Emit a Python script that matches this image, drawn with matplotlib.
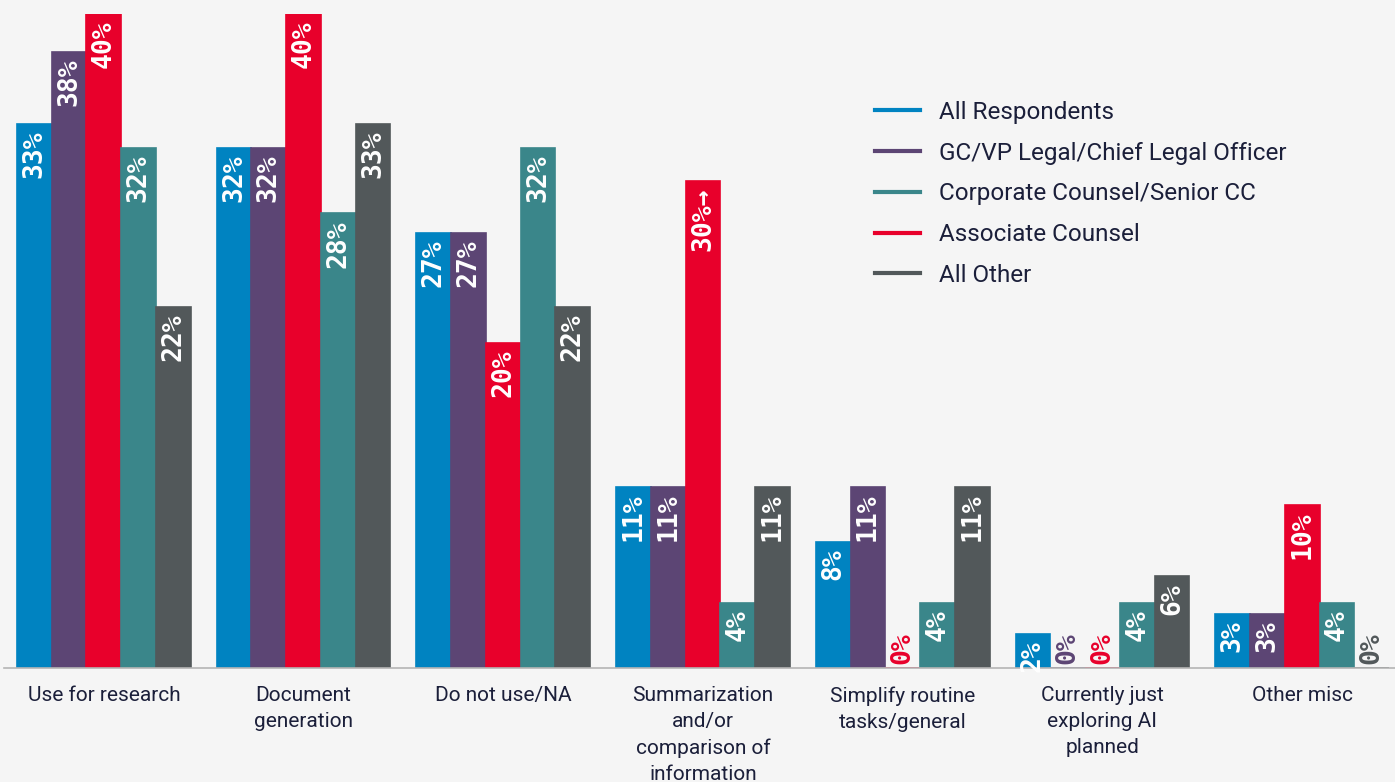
import numpy as np
import matplotlib.pyplot as plt
from matplotlib.lines import Line2D

# данные (подписи - округлённые)
categories = ["Use for research", "Document\ngeneration", "Do not use/NA",
              "Summarization\nand/or\ncomparison of\ninformation",
              "Simplify routine\ntasks/general",
              "Currently just\nexploring AI\nplanned", "Other misc"]
series_names = ["All Respondents", "GC/VP Legal/Chief Legal Officer",
                "Corporate Counsel/Senior CC", "Associate Counsel", "All Other"]
all_resp = [33.3, 31.8, 26.6, 11.1, 7.7, 2.1, 3.3]
gc_vp = [37.7, 31.8, 26.6, 11.1, 11.1, 0, 3.3]
assoc = [40.0, 40.0, 19.9, 29.8, 0, 0, 10.0]
corp_cc = [31.8, 27.8, 31.8, 4.0, 4.0, 4.0, 4.0]
all_other = [22.1, 33.3, 22.1, 11.1, 11.1, 5.6, 0]
# порядок столбцов в группе
bar_order = [all_resp, gc_vp, assoc, corp_cc, all_other]
bar_colors = ["#0083C1", "#5C4574", "#E8002B", "#3A868A", "#52585A"]
# стрелка у подписи (столбец, группа)
label_suffix = {(2, 3): "\u2192"}

series_colors = ["#0083C1", "#5C4574", "#3A868A", "#E8002B", "#52585A"]

bg = "#F5F5F5"
txt = "#1B1F3A"

fig = plt.figure(figsize=(13.95, 7.82), dpi=100, facecolor=bg)
ax = fig.add_axes([4 / 1395, 114 / 782, 1398 / 1395, 654 / 782], facecolor=bg)

x = np.arange(len(categories))
w = 0.174
for i, vals in enumerate(bar_order):
    pos = x + (i - 2) * w
    ax.bar(pos, vals, width=w, color=bar_colors[i], edgecolor=bar_colors[i],
           linewidth=1.2)
    for j, v in enumerate(vals):
        lab = f"{round(v)}%" + label_suffix.get((i, j), "")
        if v > 0:
            ax.text(pos[j], v - 0.4, lab, rotation=90, ha="center", va="top",
                    color="white", fontsize=19, fontweight="bold",
                    family="DejaVu Sans Mono")
        else:
            ax.text(pos[j], 0.25, lab, rotation=90, ha="center", va="bottom",
                    color=bar_colors[i], fontsize=19, fontweight="bold",
                    family="DejaVu Sans Mono")

ax.set_xlim(-0.5, 6.5)
ax.set_ylim(0, 40)
ax.set_yticks([])
ax.set_xticks(x)
ax.set_xticklabels(categories, fontsize=15, color=txt, family="Roboto",
                   linespacing=1.48)
ax.tick_params(axis="x", length=0, pad=13)
for s in ["top", "right", "left"]:
    ax.spines[s].set_visible(False)
ax.spines["bottom"].set_color("#B5B5B5")
ax.spines["bottom"].set_linewidth(1.2)

handles = [Line2D([0], [0], color=series_colors[k], lw=3) for k in range(5)]
fig.legend(handles, series_names, loc="upper left",
           bbox_to_anchor=(853 / 1395, 1 - 79 / 782), frameon=False,
           prop={"family": "Roboto", "size": 17.5}, labelcolor=txt,
           handlelength=1.85, handletextpad=0.8, labelspacing=0.73)

plt.savefig("out.png", dpi=100, facecolor=bg)
